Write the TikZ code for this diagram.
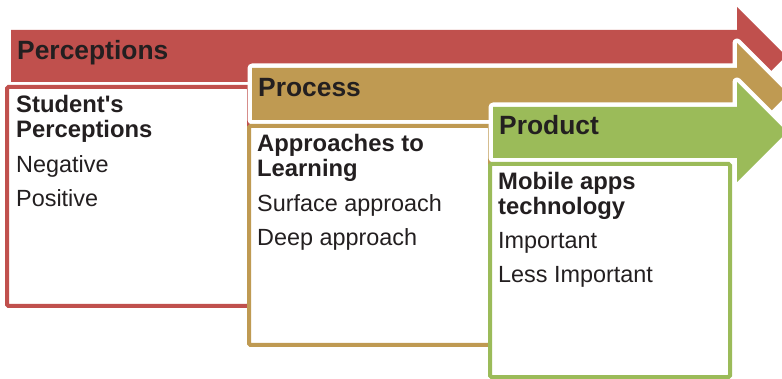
\documentclass[tikz,border=0pt]{standalone}
\usepackage{fontspec}
\setmainfont{Liberation Sans}

\definecolor{percred}{HTML}{C0504D}
\definecolor{proctan}{HTML}{BF9A52}
\definecolor{prodgreen}{HTML}{9BBB59}
\definecolor{ink}{HTML}{231F20}

\tikzset{
  steparrow/.style={fill=#1, preaction={draw=white, line width=9pt, line join=round}},
  stepbox/.style={draw=#1, line width=4pt, fill=white, rounded corners=1.5pt},
  heading/.style={anchor=base west, inner sep=0pt, text=ink, font=\fontsize{26.4}{30}\selectfont\bfseries},
  boxtitle/.style={anchor=base west, inner sep=0pt, text=ink, font=\fontsize{23.8}{28}\selectfont\bfseries},
  boxitem/.style={anchor=base west, inner sep=0pt, text=ink, font=\fontsize{23.4}{28}\selectfont},
}

\begin{document}
\begin{tikzpicture}[x=1pt,y=-1pt]
	\clip (0,0) rectangle (782,379);
	% perceptions step
	\fill[steparrow=percred] (11,30) -- (737,30) -- (737,7) -- (786,56) -- (737,105) -- (737,82) -- (11,82) -- cycle;
	\draw[stepbox=percred] (7,87) rectangle (249,306);
	\node[heading] (percHead) at (17,60) {Perceptions};
	\node[boxtitle] (percT1) at (16,113) {Student\textquotesingle s};
	\node[boxtitle] (percT2) at (16,138) {Perceptions};
	\node[boxitem] (percNeg) at (16,173) {Negative};
	\node[boxitem] (percPos) at (16,207) {Positive};
	% process step
	\fill[steparrow=proctan] (252,68) -- (737,68) -- (737,43) -- (788,94) -- (737,145) -- (737,120) -- (252,120) -- cycle;
	\draw[stepbox=proctan] (249,126) rectangle (490,345);
	\node[heading] (procHead) at (258,97) {Process};
	\node[boxtitle] (procT1) at (257,152) {Approaches to};
	\node[boxtitle] (procT2) at (257,177) {Learning};
	\node[boxitem] (procSurf) at (257,212) {Surface approach};
	\node[boxitem] (procDeep) at (257,246) {Deep approach};
	% product step
	\fill[steparrow=prodgreen] (493,107) -- (737,107) -- (737,82) -- (787,132) -- (737,182) -- (737,158) -- (493,158) -- cycle;
	\draw[stepbox=prodgreen] (490,164) rectangle (730,377);
	\node[heading] (prodHead) at (499,135) {Product};
	\node[boxtitle] (prodT1) at (498,190) {Mobile apps};
	\node[boxtitle] (prodT2) at (498,215) {technology};
	\node[boxitem] (prodImp) at (498,249) {Important};
	\node[boxitem] (prodLess) at (498,283) {Less Important};
\end{tikzpicture}
\end{document}
